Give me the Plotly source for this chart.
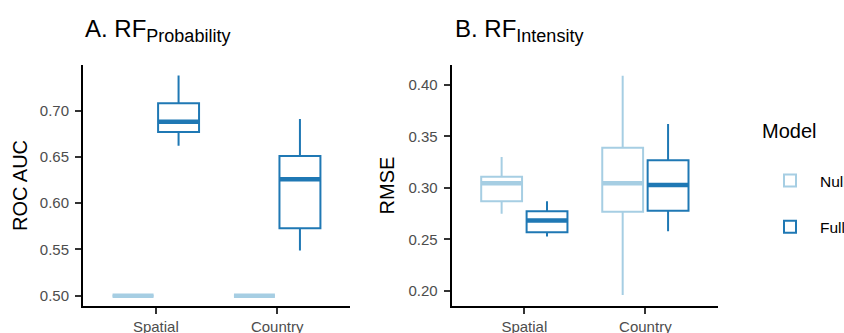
import plotly.graph_objects as go

# ---------------- data ----------------
categories = ["Spatial", "Country"]
models = ["Null", "Full"]

# Panel A: ROC AUC (RF Probability)
auc_null_lower = [0.500, 0.500]
auc_null_q1 = [0.500, 0.500]
auc_null_median = [0.500, 0.500]
auc_null_q3 = [0.500, 0.500]
auc_null_upper = [0.500, 0.500]

auc_full_lower = [0.662, 0.549]
auc_full_q1 = [0.677, 0.573]
auc_full_median = [0.688, 0.626]
auc_full_q3 = [0.708, 0.651]
auc_full_upper = [0.738, 0.691]

# Panel B: RMSE (RF Intensity)
rmse_null_lower = [0.275, 0.196]
rmse_null_q1 = [0.287, 0.277]
rmse_null_median = [0.3045, 0.3045]
rmse_null_q3 = [0.311, 0.339]
rmse_null_upper = [0.330, 0.409]

rmse_full_lower = [0.253, 0.258]
rmse_full_q1 = [0.257, 0.278]
rmse_full_median = [0.2685, 0.3028]
rmse_full_q3 = [0.2775, 0.327]
rmse_full_upper = [0.287, 0.362]

auc_ticks = [0.50, 0.55, 0.60, 0.65, 0.70]
rmse_ticks = [0.20, 0.25, 0.30, 0.35, 0.40]

colors = {"Null": "#A6CEE3", "Full": "#1F78B4"}
FONT = "Liberation Sans, Arial, sans-serif"

fig = go.Figure()

panels = [
    ("x", "y", {
        "Null": (auc_null_lower, auc_null_q1, auc_null_median, auc_null_q3, auc_null_upper),
        "Full": (auc_full_lower, auc_full_q1, auc_full_median, auc_full_q3, auc_full_upper),
    }),
    ("x2", "y2", {
        "Null": (rmse_null_lower, rmse_null_q1, rmse_null_median, rmse_null_q3, rmse_null_upper),
        "Full": (rmse_full_lower, rmse_full_q1, rmse_full_median, rmse_full_q3, rmse_full_upper),
    }),
]

for pi, (xa, ya, data) in enumerate(panels):
    for m in models:
        lo, q1, med, q3, up = data[m]
        fig.add_trace(go.Box(
            x=categories, q1=q1, median=med, q3=q3, lowerfence=lo, upperfence=up,
            name=m, legendgroup=m, showlegend=(pi == 1),
            offsetgroup=m, alignmentgroup="g%d" % pi,
            line=dict(color=colors[m], width=2), fillcolor="white",
            boxpoints=False, whiskerwidth=0,
            xaxis=xa, yaxis=ya,
        ))
        # thick median line (ggplot fatten)
        fig.add_trace(go.Box(
            x=categories, q1=med, median=med, q3=med, lowerfence=med, upperfence=med,
            name=m, legendgroup=m, showlegend=False,
            offsetgroup=m, alignmentgroup="g%d" % pi,
            line=dict(color=colors[m], width=4.5), fillcolor=colors[m],
            boxpoints=False, whiskerwidth=0, hoverinfo="skip",
            xaxis=xa, yaxis=ya,
        ))

W, H = 844, 333
L, R, T, B = 83, 844 - 718, 65, 333 - 306
PW = W - L - R
PH = H - T - B

axis_common = dict(
    showline=True, linecolor="black", linewidth=2,
    ticks="outside", ticklen=6, tickwidth=2, tickcolor="#333333",
    showgrid=False, zeroline=False, automargin=False,
    tickfont=dict(family=FONT, size=15, color="#4D4D4D"),
)

fig.update_layout(
    width=W, height=H,
    margin=dict(l=L, r=R, t=T, b=B, autoexpand=False),
    paper_bgcolor="white", plot_bgcolor="white",
    boxmode="group", boxgap=0.25, boxgroupgap=0.1,
    font=dict(family=FONT, color="black"),
    xaxis=dict(domain=[0, (350 - L) / PW], range=[-0.6, 1.6], type="category",
               categoryorder="array", categoryarray=categories, **axis_common),
    xaxis2=dict(domain=[(451.7 - L) / PW, 1], range=[-0.6, 1.6], type="category",
                categoryorder="array", categoryarray=categories, anchor="y2", **axis_common),
    yaxis=dict(range=[0.4889, 0.7494], tickvals=auc_ticks, tickformat=".2f",
               title=dict(text="ROC AUC", font=dict(family=FONT, size=20, color="black"), standoff=7),
               ticklabelstandoff=3, **axis_common),
    yaxis2=dict(range=[0.1854, 0.4194], tickvals=rmse_ticks, tickformat=".2f", anchor="x2",
                title=dict(text="RMSE", font=dict(family=FONT, size=20, color="black"), standoff=8),
                ticklabelstandoff=3, **axis_common),
    legend=dict(
        x=(760 - L) / PW, xanchor="left", y=1 - (112 - T) / PH, yanchor="top",
        title=dict(text="Model<br> ", font=dict(family=FONT, size=20, color="black")),
        font=dict(family=FONT, size=15.5, color="black"),
        itemwidth=50, tracegroupgap=23, bgcolor="rgba(0,0,0,0)",
    ),
    annotations=[
        dict(text="A. RF<sub><span style='font-size:18px'>Probability</span></sub>",
             xref="paper", yref="paper",
             x=0, y=1 + (T - 30) / PH, xanchor="left", yanchor="middle",
             showarrow=False, font=dict(family=FONT, size=24, color="black")),
        dict(text="B. RF<sub><span style='font-size:18px'>Intensity</span></sub>",
             xref="paper", yref="paper",
             x=(452.7 - L) / PW, y=1 + (T - 30) / PH, xanchor="left", yanchor="middle",
             showarrow=False, font=dict(family=FONT, size=24, color="black")),
    ],
)

fig.write_html(
    "out.html",
    config={"displayModeBar": False},
    post_script="document.body.style.margin='0';document.body.style.padding='0';",
)
